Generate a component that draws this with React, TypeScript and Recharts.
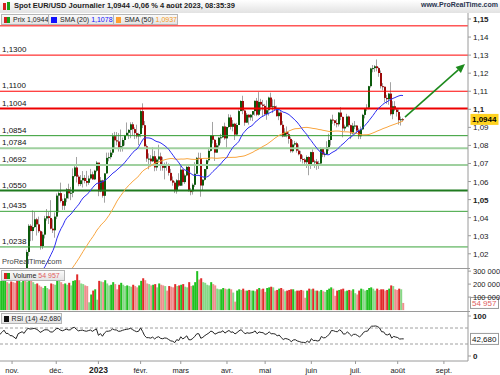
import React from "react";
import { ComposedChart, Bar, Line, XAxis, YAxis, ReferenceLine, Cell } from "recharts";

const FONT = "'Liberation Sans', Arial, sans-serif";

// calendar: weekdays from the first visible session, feed holidays dropped
const FIRST_DAY = "2022-10-24";
const MISSING_DAYS = ["2022-12-26", "2023-01-02", "2023-04-07"];
const SLOT_COUNT = 234; // sessions + empty room on the right
const MONTH_NAMES = ["2023", "févr.", "mars", "avr.", "mai", "juin", "juil.", "août", "sept.", "oct.", "nov.", "déc."];

// closes before the first visible session, only used by SMA / RSI
const preCloses = [
  0.9945, 0.9953, 0.9929, 0.9903, 1.0009, 1.0, 1.004, 1.0121, 0.9969, 0.9979, 0.9996, 1.0015, 1.0025, 0.9971,
  0.9837, 0.9837, 0.969, 0.9609, 0.9594, 0.9736, 0.9815, 0.9802, 0.9826, 0.9985, 0.9882, 0.9794, 0.9742, 0.9703,
  0.9705, 0.9707, 0.978, 0.9722, 0.9836, 0.9856, 0.9773, 0.9781, 0.9862,
];

// [high, low, close] per session
const oct22 = [
  [0.99, 0.9808, 0.9879], [0.9976, 0.9859, 0.9965], [1.0094, 0.9963, 1.0079], [1.0088, 0.9953, 0.9963],
  [0.9978, 0.9931, 0.9965], [0.9976, 0.987, 0.9881],
];
const nov22 = [
  [0.9954, 0.9853, 0.9875], [0.9977, 0.9814, 0.9818], [0.9829, 0.973, 0.975], [0.9965, 0.9751, 0.996],
  [1.0033, 0.9925, 1.002], [1.0094, 0.9981, 1.0075], [1.008, 1.0001, 1.0011], [1.0223, 0.9935, 1.021],
  [1.0364, 1.0187, 1.0355], [1.0364, 1.027, 1.0326], [1.044, 1.0273, 1.0348], [1.0432, 1.0342, 1.0391],
  [1.0399, 1.0301, 1.0363], [1.0406, 1.0316, 1.0325], [1.033, 1.0223, 1.0243], [1.0322, 1.0226, 1.0306],
  [1.041, 1.0285, 1.0396], [1.0448, 1.0383, 1.0408], [1.0431, 1.0365, 1.0398], [1.0497, 1.0335, 1.0339],
  [1.0391, 1.0315, 1.033], [1.0429, 1.0289, 1.0406],
];
const dec22 = [
  [1.0534, 1.0392, 1.0522], [1.0545, 1.0429, 1.0536], [1.0594, 1.0484, 1.0492], [1.0505, 1.0443, 1.0466],
  [1.053, 1.0443, 1.0507], [1.0564, 1.0486, 1.0557], [1.0588, 1.0505, 1.0535], [1.057, 1.0497, 1.0538],
  [1.0673, 1.0513, 1.063], [1.0695, 1.0624, 1.0678], [1.0736, 1.0595, 1.0627], [1.0637, 1.0574, 1.0586],
  [1.0636, 1.0575, 1.0607], [1.0658, 1.0567, 1.062], [1.0636, 1.059, 1.0603], [1.0659, 1.0573, 1.0593],
  [1.0633, 1.0582, 1.0617], [1.067, 1.0611, 1.064], [1.0655, 1.061, 1.0612], [1.0665, 1.0609, 1.066],
  [1.0714, 1.0652, 1.0705],
];
const jan23 = [
  [1.0684, 1.0519, 1.0546], [1.0625, 1.0541, 1.0606], [1.061, 1.0511, 1.0521], [1.0646, 1.0483, 1.0645],
  [1.076, 1.0643, 1.0731], [1.076, 1.0712, 1.0735], [1.0775, 1.0723, 1.076], [1.0868, 1.0747, 1.0851],
  [1.0875, 1.0786, 1.0828], [1.0874, 1.08, 1.0822], [1.0868, 1.0766, 1.0788], [1.0888, 1.0765, 1.0796],
  [1.0844, 1.0766, 1.083], [1.0859, 1.08, 1.0856], [1.0927, 1.0855, 1.087], [1.089, 1.0835, 1.0886],
  [1.0928, 1.084, 1.0917], [1.0929, 1.0855, 1.089], [1.09, 1.0835, 1.0868], [1.0915, 1.0838, 1.085],
  [1.087, 1.0802, 1.0863],
];
const feb23 = [
  [1.1, 1.0845, 1.099], [1.1033, 1.0896, 1.0912], [1.0935, 1.0795, 1.0795], [1.0805, 1.0709, 1.0727],
  [1.0756, 1.0668, 1.0727], [1.0746, 1.0685, 1.0712], [1.079, 1.0708, 1.074], [1.077, 1.0657, 1.0678],
  [1.073, 1.066, 1.0722], [1.0804, 1.0705, 1.0739], [1.076, 1.066, 1.0687], [1.0735, 1.066, 1.0676],
  [1.0705, 1.0612, 1.0695], [1.071, 1.066, 1.0686], [1.07, 1.0633, 1.0648], [1.067, 1.0602, 1.0606],
  [1.0628, 1.0577, 1.0594], [1.0603, 1.0536, 1.0547], [1.0613, 1.0533, 1.0607], [1.0646, 1.057, 1.0577],
];
const mar23 = [
  [1.0691, 1.0576, 1.0666], [1.0668, 1.0577, 1.0597], [1.0644, 1.0587, 1.0634], [1.0695, 1.0629, 1.0681],
  [1.0694, 1.0545, 1.0547], [1.0565, 1.0524, 1.0546], [1.059, 1.0528, 1.0582], [1.0707, 1.057, 1.0643],
  [1.0736, 1.0645, 1.0731], [1.076, 1.069, 1.073], [1.0759, 1.0516, 1.0578], [1.0613, 1.0551, 1.061],
  [1.067, 1.0605, 1.0669], [1.0722, 1.0632, 1.0718], [1.0788, 1.0706, 1.077], [1.0856, 1.0766, 1.0856],
  [1.093, 1.0811, 1.0831], [1.0836, 1.0714, 1.076], [1.0813, 1.076, 1.08], [1.0846, 1.0786, 1.0843],
  [1.0864, 1.0812, 1.0845], [1.0907, 1.0841, 1.0905], [1.0926, 1.0831, 1.0839],
];
const apr23 = [
  [1.0904, 1.0788, 1.0902], [1.0973, 1.0897, 1.0955], [1.097, 1.0888, 1.0903], [1.0941, 1.0878, 1.092],
  [1.0925, 1.083, 1.086], [1.0925, 1.0857, 1.0913], [1.0998, 1.0915, 1.099], [1.105, 1.099, 1.1046],
  [1.1075, 1.0973, 1.0993], [1.0998, 1.0909, 1.0926], [1.098, 1.0925, 1.097], [1.0972, 1.0915, 1.0955],
  [1.0974, 1.0938, 1.097], [1.099, 1.0935, 1.099], [1.1048, 1.0965, 1.1047], [1.1063, 1.0962, 1.097],
  [1.1095, 1.0964, 1.1041], [1.1058, 1.099, 1.1026], [1.1052, 1.0962, 1.1019],
];
const may23 = [
  [1.103, 1.0966, 1.0974], [1.105, 1.0942, 1.0995], [1.107, 1.0965, 1.1065], [1.1092, 1.1008, 1.1013],
  [1.1055, 1.0979, 1.1017], [1.1055, 1.0995, 1.1007], [1.102, 1.096, 1.0962], [1.1, 1.094, 1.0982],
  [1.099, 1.091, 1.0914], [1.0935, 1.0845, 1.085], [1.0895, 1.085, 1.0875], [1.0905, 1.0845, 1.0862],
  [1.0875, 1.081, 1.0836], [1.0848, 1.076, 1.0768], [1.083, 1.076, 1.0805], [1.0825, 1.0795, 1.0812],
  [1.082, 1.076, 1.0771], [1.0805, 1.0745, 1.0751], [1.077, 1.071, 1.0725], [1.0745, 1.07, 1.0722],
  [1.073, 1.069, 1.0707], [1.0745, 1.0675, 1.0736], [1.074, 1.0635, 1.069],
];
const jun23 = [
  [1.0765, 1.067, 1.0763], [1.0778, 1.0705, 1.0708], [1.072, 1.0675, 1.0711], [1.0725, 1.0665, 1.0693],
  [1.0715, 1.067, 1.07], [1.079, 1.0695, 1.0783], [1.0785, 1.0735, 1.0749], [1.0765, 1.0735, 1.0752],
  [1.0823, 1.075, 1.079], [1.0865, 1.077, 1.083], [1.0948, 1.08, 1.0943], [1.097, 1.092, 1.0939],
  [1.094, 1.091, 1.0924], [1.0945, 1.09, 1.0917], [1.0985, 1.0905, 1.0982], [1.1012, 1.094, 1.0958],
  [1.096, 1.0845, 1.0894], [1.0915, 1.088, 1.0904], [1.0975, 1.09, 1.096], [1.0965, 1.09, 1.0912],
  [1.0915, 1.0835, 1.0867], [1.0925, 1.086, 1.0909],
];
const jul23 = [
  [1.0935, 1.089, 1.091], [1.0912, 1.0868, 1.0882], [1.0895, 1.0835, 1.0851], [1.0905, 1.0835, 1.0889],
  [1.0975, 1.0885, 1.0969], [1.1005, 1.095, 1.1002], [1.1028, 1.099, 1.1009], [1.113, 1.1, 1.1128],
  [1.123, 1.112, 1.1226], [1.1245, 1.1205, 1.1228], [1.1245, 1.1207, 1.1238], [1.1276, 1.121, 1.1228],
  [1.1235, 1.118, 1.1201], [1.1215, 1.1115, 1.1128], [1.1145, 1.1105, 1.1125], [1.1125, 1.104, 1.1063],
  [1.108, 1.103, 1.1056], [1.109, 1.1025, 1.1087], [1.115, 1.0965, 1.0973], [1.1045, 1.0945, 1.1017],
  [1.1045, 1.099, 1.0999],
];
const aug23 = [[1.1005, 1.096, 1.0985], [1.1, 1.0915, 1.094], [1.096, 1.091, 1.0945], [1.0952, 1.0935, 1.0944]];

// volume, thousands
const volOct22 = [225, 235, 240, 215, 205, 220];
const volNov22 = [215, 210, 225, 230, 215, 240, 235, 220, 240, 230, 215, 200, 205, 190, 180, 170, 185, 170, 160, 205, 200, 195];
const volDec22 = [240, 235, 215, 200, 205, 195, 210, 190, 225, 230, 275, 230, 205, 200, 190, 185, 60, 120, 150, 160, 80];
const volJan23 = [225, 220, 215, 230, 205, 190, 195, 215, 200, 160, 195, 210, 195, 185, 190, 185, 180, 195, 185, 175, 190];
const volFeb23 = [225, 245, 230, 205, 200, 190, 195, 200, 175, 205, 195, 190, 185, 150, 185, 180, 175, 200, 185, 190];
const volMar23 = [195, 200, 180, 175, 215, 185, 190, 215, 300, 235, 245, 215, 210, 195, 190, 215, 200, 190, 165, 160, 160, 170, 165];
const volApr23 = [160, 165, 160, 135, 65, 150, 160, 155, 165, 150, 150, 155, 150, 150, 145, 160, 170, 160, 165];
const volMay23 = [140, 170, 175, 180, 175, 150, 155, 165, 170, 160, 145, 150, 155, 160, 160, 145, 150, 150, 155, 150, 95, 150, 165];
const volJun23 = [160, 165, 150, 150, 145, 155, 145, 140, 155, 165, 175, 165, 110, 150, 155, 160, 165, 145, 150, 155, 150, 160];
const volJul23 = [130, 120, 150, 165, 160, 150, 155, 170, 175, 165, 150, 165, 155, 160, 160, 150, 155, 165, 190, 185, 160];
const volAug23 = [155, 165, 160, 54.957];

// support / resistance levels drawn on the chart
const levelValues = [1.1462, 1.13, 1.11, 1.1004, 1.0854, 1.0784, 1.0692, 1.055, 1.0435, 1.0238];
const levelLabels = [null, "1,1300", "1,1100", "1,1004", "1,0854", "1,0784", "1,0692", "1,0550", "1,0435", "1,0238"];
const LEVEL_STYLE = [
  { c: "#ff0000", w: 1 }, { c: "#ff0000", w: 1 }, { c: "#ff0000", w: 1 }, { c: "#ee0000", w: 2 },
  { c: "#2e9b2e", w: 1 }, { c: "#9fd09f", w: 2 }, { c: "#9fd09f", w: 2 }, { c: "#1f7a1f", w: 2 },
  { c: "#3aa33a", w: 1 }, { c: "#3aa33a", w: 1 },
];

const priceTicks = [1.02, 1.03, 1.04, 1.05, 1.06, 1.07, 1.08, 1.09, 1.1, 1.11, 1.12, 1.13, 1.14, 1.15];
const volumeTicks = [100000, 200000, 300000];
const rsiTicks = [0, 100];

// values printed in the header / tags
const LAST_PRICE = "1,0944";
const LAST_SMA20 = "1,1078";
const LAST_SMA50 = "1,0937";
const LAST_VOLUME = "54 957";
const LAST_RSI = 42.68;
const TREND_FROM = { slot: 202, price: 1.0957 };
const TREND_TO = { slot: 232, price: 1.1251 };

const candles = [...oct22, ...nov22, ...dec22, ...jan23, ...feb23, ...mar23, ...apr23, ...may23, ...jun23, ...jul23, ...aug23];
const volumes = [
  ...volOct22, ...volNov22, ...volDec22, ...volJan23, ...volFeb23, ...volMar23,
  ...volApr23, ...volMay23, ...volJun23, ...volJul23, ...volAug23,
].map((v) => Math.round(v * 1000));

function sma(values: number[], n: number) {
  return values.map((_, k) => (k < n - 1 ? null : values.slice(k - n + 1, k + 1).reduce((a, b) => a + b, 0) / n));
}

function rsi(values: number[], n: number) {
  const out: (number | null)[] = values.map(() => null);
  let ag = 0;
  let al = 0;
  for (let k = 1; k < values.length; k++) {
    const d = values[k] - values[k - 1];
    const g = Math.max(d, 0);
    const l = Math.max(-d, 0);
    if (k <= n) {
      ag += g / n;
      al += l / n;
      if (k === n) out[k] = 100 - 100 / (1 + ag / al);
    } else {
      ag = (ag * (n - 1) + g) / n;
      al = (al * (n - 1) + l) / n;
      out[k] = al === 0 ? 100 : 100 - 100 / (1 + ag / al);
    }
  }
  return out;
}

function buildDates() {
  const out: Date[] = [];
  const d = new Date(FIRST_DAY + "T00:00:00Z");
  while (out.length < SLOT_COUNT) {
    const dow = d.getUTCDay();
    const iso = d.toISOString().slice(0, 10);
    if (dow !== 0 && dow !== 6 && !MISSING_DAYS.includes(iso)) out.push(new Date(d));
    d.setUTCDate(d.getUTCDate() + 1);
  }
  return out;
}

const allCloses = [...preCloses, ...candles.map((c) => c[2])];
const skip = preCloses.length;
const sma20 = sma(allCloses, 20).slice(skip);
const sma50 = sma(allCloses, 50).slice(skip);
const rsi14 = rsi(allCloses, 14).slice(skip);

const dates = buildDates();
const data = dates.map((date, i) => {
  const c = candles[i];
  if (!c) return { i, month: date.getUTCMonth() };
  const o = i === 0 ? preCloses[skip - 1] : candles[i - 1][2];
  return {
    i,
    month: date.getUTCMonth(),
    o,
    h: c[0],
    l: c[1],
    c: c[2],
    range: [c[1], c[0]],
    vol: volumes[i],
    sma20: sma20[i],
    sma50: sma50[i],
    rsi: rsi14[i],
  };
});

const monthTicks = data.filter((d, k) => k > 0 && d.month !== data[k - 1].month).map((d) => d.i);
const monthOf: Record<number, number> = {};
data.forEach((d) => (monthOf[d.i] = d.month));

const fmtPrice = (v: number) => String(parseFloat(v.toFixed(2))).replace(".", ",");
const fmtVol = (v: number) => String(v).replace(/\B(?=(\d{3})+(?!\d))/g, " ");

function Candle(p: any) {
  const { x, y, width, height, payload } = p;
  if (!payload || payload.c == null) return null;
  const top = Math.min(y, y + height);
  const h = Math.abs(height);
  const span = payload.h - payload.l;
  const py = (v: number) => (span > 0 ? top + ((payload.h - v) / span) * h : top);
  const up = payload.c >= payload.o;
  const b1 = py(Math.max(payload.o, payload.c));
  const b2 = py(Math.min(payload.o, payload.c));
  const left = Math.round(x + width / 2) - 1;
  return (
    <g>
      <rect x={left} y={top} width={1} height={Math.max(1, h)} fill="#a3a3a3" />
      <rect x={left} y={b1} width={2} height={Math.max(1, b2 - b1)} fill={up ? "#0c5a0c" : "#9c0a0a"} />
    </g>
  );
}

function VolBar(p: any) {
  const { x, y, width, height, fill } = p;
  if (!height) return null;
  return <rect x={x} y={y} width={width} height={height} fill={fill} />;
}

function volColor(k: number) {
  const d: any = data[k];
  const prev: any = k > 0 ? data[k - 1] : d;
  const up = d.c >= d.o;
  const rising = d.vol >= prev.vol;
  if (up) return rising ? "#1fc01f" : "#86d886";
  return rising ? "#e02a2a" : "#ee8e8e";
}

const PriceTick = (p: any) => {
  const v = p.payload.value;
  const bold = Math.round(v * 100) % 5 === 0;
  return (
    <text x={p.x} y={p.y} dy={3} fontSize={8} fontWeight={bold ? 700 : 400} fontFamily={FONT} fill="#222">
      {fmtPrice(v)}
    </text>
  );
};

const VolTick = (p: any) => (
  <text x={p.x} y={p.y} dy={3} fontSize={7.5} fontFamily={FONT} fill="#222">
    {fmtVol(p.payload.value)}
  </text>
);

const RsiTick = (p: any) => (
  <text x={p.x} y={p.y} dy={3} fontSize={8} fontWeight={700} fontFamily={FONT} fill="#222">
    {p.payload.value}
  </text>
);

const MonthTick = (p: any) => {
  const m = monthOf[p.payload.value];
  const name = MONTH_NAMES[m];
  const isYear = m === 0;
  return (
    <text x={p.x} y={p.y} dy={7} textAnchor="middle" fontSize={isYear ? 8.5 : 7.5} fontWeight={isYear ? 700 : 400} fontFamily={FONT} fill="#222">
      {name}
    </text>
  );
};

const levelLabel = (text: string | null) => (p: any) =>
  text ? (
    <text x={(p.viewBox?.x ?? 0) + 2} y={(p.viewBox?.y ?? 0) - 3} fontSize={8} fontFamily={FONT} fill="#111">
      {text}
    </text>
  ) : null;

const tag = (text: string, bg: string, fg: string, border: string, bold: boolean) => (p: any) => {
  const vb = p.viewBox || {};
  const x = (vb.x ?? 0) + (vb.width ?? 0);
  const y = vb.y ?? 0;
  return (
    <g>
      <rect x={x + 2.5} y={y - 5.5} width={28} height={11} fill={bg} stroke={border} strokeWidth={border === "none" ? 0 : 1} />
      <text x={x + 4} y={y + 3} fontSize={8} fontWeight={bold ? 700 : 400} fontFamily={FONT} fill={fg}>
        {text}
      </text>
    </g>
  );
};

function Arrow(p: any) {
  const { x1, y1, x2, y2 } = p;
  if ([x1, y1, x2, y2].some((v) => v == null || isNaN(v))) return null;
  const a = Math.atan2(y2 - y1, x2 - x1);
  const L = 9;
  const W = 4;
  const bx = x2 - L * Math.cos(a);
  const by = y2 - L * Math.sin(a);
  const pts = `${x2},${y2} ${bx + W * Math.sin(a)},${by - W * Math.cos(a)} ${bx - W * Math.sin(a)},${by + W * Math.cos(a)}`;
  return (
    <g>
      <line x1={x1} y1={y1} x2={bx} y2={by} stroke="#1d8a1d" strokeWidth={1.6} />
      <polygon points={pts} fill="#1d8a1d" />
    </g>
  );
}

const legendBox: React.CSSProperties = {
  position: "absolute",
  height: 9,
  background: "linear-gradient(#fafafa, #e4e4e4)",
  border: "1px solid #b5b5b5",
  fontSize: 7,
  lineHeight: "9px",
  fontFamily: FONT,
  color: "#222",
  whiteSpace: "nowrap",
  display: "flex",
  alignItems: "center",
  paddingLeft: 2,
  boxSizing: "content-box",
};

const Swatch = ({ color }: { color: string }) => (
  <span style={{ display: "inline-block", width: 6, height: 6, background: color, marginRight: 3 }} />
);
const SplitSwatch = () => (
  <span style={{ display: "inline-flex", marginRight: 3 }}>
    <span style={{ width: 3, height: 6, background: "#d42020" }} />
    <span style={{ width: 3, height: 6, background: "#18a018" }} />
  </span>
);

const MARGIN = { top: 0, right: 0, bottom: 0, left: 0 };
const RIGHT_W = 32;

export default function App() {
  const lastIdx = candles.length - 1;
  return (
    <div style={{ position: "fixed", left: 0, top: 0, width: 500, height: 375, background: "#fff", overflow: "hidden", fontFamily: FONT }}>
      {/* title bar */}
      <div style={{ position: "absolute", left: 0, top: 0, width: 500, height: 13, background: "linear-gradient(#ffffff, #e2e2e2)" }}>
        <span style={{ position: "absolute", left: 3, top: 3, width: 3, height: 7, background: "#d42020" }} />
        <span style={{ position: "absolute", left: 7, top: 2, width: 3, height: 8, background: "#18a018" }} />
        <span style={{ position: "absolute", left: 14, top: 1, fontSize: 7.5, fontWeight: 700, color: "#222", whiteSpace: "nowrap" }}>
          Spot EUR/USD Journalier 1,0944 -0,06 % 4 août 2023, 08:35:39
        </span>
        <span style={{ position: "absolute", right: 2, top: 1, fontSize: 7, fontWeight: 700, color: "#2a3550", whiteSpace: "nowrap" }}>
          www.ProRealTime.com
        </span>
      </div>

      {/* price panel */}
      <div style={{ position: "absolute", left: 0, top: 13 }}>
        <ComposedChart width={500} height={255} data={data} margin={MARGIN} barCategoryGap={0} barGap={0}>
          <XAxis dataKey="i" hide />
          <YAxis
            orientation="right"
            width={RIGHT_W}
            domain={[1.01213, 1.15332]}
            allowDataOverflow
            ticks={priceTicks}
            interval={0}
            tick={<PriceTick />}
            tickSize={3}
            axisLine={{ stroke: "#9a9a9a" }}
            tickLine={{ stroke: "#9a9a9a" }}
          />
          {levelValues.map((v, k) => (
            <ReferenceLine
              key={k}
              y={v}
              stroke={LEVEL_STYLE[k].c}
              strokeWidth={LEVEL_STYLE[k].w}
              label={levelLabel(levelLabels[k])}
            />
          ))}
          <Bar dataKey="range" shape={(p: any) => <Candle {...p} />} isAnimationActive={false} />
          <Line dataKey="sma50" stroke="#f9a640" strokeWidth={1} dot={false} isAnimationActive={false} />
          <Line dataKey="sma20" stroke="#2f2ff2" strokeWidth={1} dot={false} isAnimationActive={false} />
          <ReferenceLine y={candles[lastIdx][2]} stroke="none" label={tag(LAST_PRICE, "#ffd21f", "#000", "none", true)} />
          <ReferenceLine
            segment={[{ x: TREND_FROM.slot, y: TREND_FROM.price }, { x: TREND_TO.slot, y: TREND_TO.price }]}
            ifOverflow="visible"
            shape={(p: any) => <Arrow {...p} />}
          />
        </ComposedChart>
      </div>
      <div style={{ position: "absolute", left: 2, top: 257, fontSize: 7.5, color: "#444", fontFamily: FONT }}>ProRealTime.com</div>
      <div style={{ ...legendBox, left: 1, top: 14, width: 44 }}>
        <SplitSwatch />
        Prix 1,0944
      </div>
      <div style={{ ...legendBox, left: 48, top: 14, width: 62 }}>
        <Swatch color="#1010ff" />
        SMA (20)&nbsp;<span style={{ color: "#1010ff" }}>{LAST_SMA20}</span>
      </div>
      <div style={{ ...legendBox, left: 113, top: 14, width: 61 }}>
        <Swatch color="#ffa030" />
        SMA (50)&nbsp;<span style={{ color: "#f59a20" }}>{LAST_SMA50}</span>
      </div>

      {/* volume panel */}
      <div style={{ position: "absolute", left: 0, top: 268, width: 470, borderTop: "1px solid #9a9a9a" }} />
      <div style={{ position: "absolute", left: 0, top: 268 }}>
        <ComposedChart width={500} height={43} data={data} margin={MARGIN} barCategoryGap="10%">
          <XAxis dataKey="i" hide />
          <YAxis
            orientation="right"
            width={RIGHT_W}
            domain={[-7000, 324000]}
            allowDataOverflow
            ticks={volumeTicks}
            interval={0}
            tick={<VolTick />}
            tickSize={3}
            axisLine={{ stroke: "#9a9a9a" }}
            tickLine={{ stroke: "#9a9a9a" }}
          />
          <Bar dataKey="vol" shape={(p: any) => <VolBar {...p} />} isAnimationActive={false}>
            {data.map((d, k) => (
              <Cell key={k} fill={d.c == null ? "none" : volColor(k)} />
            ))}
          </Bar>
          <ReferenceLine y={volumes[lastIdx]} stroke="none" label={tag(LAST_VOLUME, "#fff", "#e06060", "#9a9a9a", false)} />
        </ComposedChart>
      </div>
      <div style={{ ...legendBox, left: 1, top: 270, width: 60 }}>
        <SplitSwatch />
        Volume&nbsp;<span style={{ color: "#e06060" }}>{LAST_VOLUME}</span>
      </div>

      {/* RSI panel */}
      <div style={{ position: "absolute", left: 0, top: 311, width: 470, borderTop: "1px solid #9a9a9a" }} />
      <div style={{ position: "absolute", left: 0, top: 311 }}>
        <ComposedChart width={500} height={64} data={data} margin={MARGIN}>
          <XAxis
            dataKey="i"
            height={14}
            ticks={monthTicks}
            interval={0}
            tick={<MonthTick />}
            tickSize={3}
            axisLine={{ stroke: "#9a9a9a" }}
            tickLine={{ stroke: "#9a9a9a" }}
          />
          <YAxis
            orientation="right"
            width={RIGHT_W}
            domain={[-12.5, 112.5]}
            allowDataOverflow
            ticks={rsiTicks}
            interval={0}
            tick={<RsiTick />}
            tickSize={3}
            axisLine={{ stroke: "#9a9a9a" }}
            tickLine={{ stroke: "#9a9a9a" }}
          />
          <ReferenceLine y={70} stroke="#a0a0a0" strokeDasharray="3 2" />
          <ReferenceLine y={30} stroke="#a0a0a0" strokeDasharray="3 2" />
          <Line dataKey="rsi" stroke="#222" strokeWidth={1} dot={false} isAnimationActive={false} />
          <ReferenceLine y={LAST_RSI} stroke="none" label={tag("42,680", "#fff", "#111", "#9a9a9a", false)} />
        </ComposedChart>
      </div>
      <div style={{ ...legendBox, left: 1, top: 313, width: 57 }}>
        <Swatch color="#111" />
        RSI (14) 42,680
      </div>
    </div>
  );
}
